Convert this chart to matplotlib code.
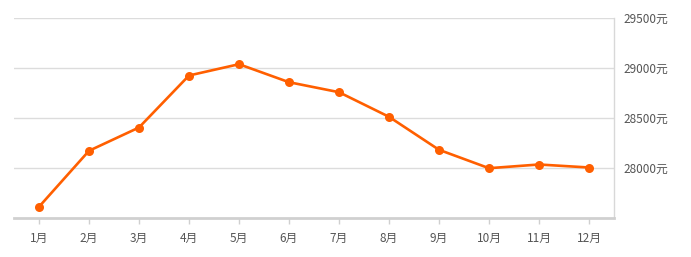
import matplotlib
matplotlib.use("Agg")
import matplotlib.pyplot as plt

plt.rcParams['font.family'] = ['Noto Sans CJK SC', 'DejaVu Sans']

months = ['1月', '2月', '3月', '4月', '5月', '6月', '7月', '8月', '9月', '10月', '11月', '12月']
prices = [27607, 28167, 28400, 28920, 29033, 28853, 28753, 28507, 28177, 27993, 28030, 28000]
yticks = [28000, 28500, 29000, 29500]
ytick_labels = ['28000元', '28500元', '29000元', '29500元']

W, H = 691, 257
fig = plt.figure(figsize=(W / 100, H / 100), dpi=100)
ax = fig.add_axes([14 / W, (H - 217.5) / H, 600 / W, 200 / H])

x = list(range(len(months)))
ax.plot(x, prices, color='#FF5F00', lw=1.9, marker='o', markersize=6.5,
        markeredgewidth=0, zorder=3, solid_joinstyle='round')

ax.set_xlim(-0.5, 11.5)
ax.set_ylim(27500, 29500)
ax.set_xticks(x)
ax.set_xticklabels(months)
ax.yaxis.tick_right()
ax.set_yticks(yticks)
ax.set_yticklabels(ytick_labels)
ax.grid(axis='y', color='#dcdcdc', lw=1)
ax.set_axisbelow(True)

for s in ['top', 'left']:
    ax.spines[s].set_visible(False)
ax.spines['bottom'].set_color('#d0d0d0')
ax.spines['bottom'].set_linewidth(2)
ax.spines['right'].set_color('#d8d8d8')
ax.spines['right'].set_linewidth(1)

ax.tick_params(axis='x', length=4, width=1, color='#d0d0d0', labelsize=8.5,
               labelcolor='#555555', pad=6.5)
ax.tick_params(axis='y', length=0, labelsize=8.5, labelcolor='#555555', pad=6.5)

fig.savefig('out.png', dpi=100, facecolor='white')
